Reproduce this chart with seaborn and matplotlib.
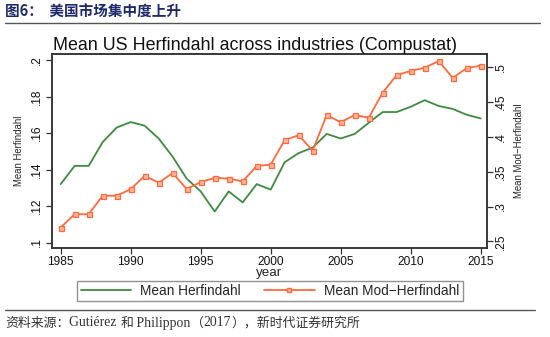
import numpy as np
import pandas as pd
import matplotlib
matplotlib.use("Agg")
import matplotlib.pyplot as plt
from matplotlib.lines import Line2D
import seaborn as sns

# Annual series, 1985-2015
years = list(range(1985, 2016))
herfindahl = [0.132, 0.142, 0.142, 0.155, 0.163, 0.166, 0.164, 0.157, 0.147, 0.135,
              0.128, 0.117, 0.128, 0.122, 0.132, 0.129, 0.144, 0.149, 0.152, 0.1595,
              0.157, 0.1595, 0.1656, 0.1715, 0.1715, 0.1744, 0.178, 0.1748, 0.1732,
              0.170, 0.168]
mod_herfindahl = [0.270, 0.289, 0.289, 0.3155, 0.3155, 0.3247, 0.344, 0.334, 0.348, 0.325,
                  0.335, 0.341, 0.340, 0.336, 0.358, 0.360, 0.395, 0.402, 0.380, 0.431,
                  0.4205, 0.431, 0.427, 0.463, 0.488, 0.494, 0.4986, 0.508, 0.484, 0.498,
                  0.5015]

x_ticks = [1985, 1990, 1995, 2000, 2005, 2010, 2015]
left_ticks = [0.10, 0.12, 0.14, 0.16, 0.18, 0.20]
left_labels = [".1", ".12", ".14", ".16", ".18", ".2"]
right_ticks = [0.25, 0.30, 0.35, 0.40, 0.45, 0.50]
right_labels = [".25", ".3", ".35", ".4", ".45", ".5"]

title = "Mean US Herfindahl across industries (Compustat)"
header = "图6：  美国市场集中度上升"
# source line split into CJK and Latin runs (True = Latin run)
source_parts = [("资料来源：", False), ("Gutiérez ", True), ("和", False),
                (" Philippon", True), ("（", False), ("2017", True),
                ("），新时代证券研究所", False)]
series_names = ["Mean Herfindahl", "Mean Mod\u2212Herfindahl"]

df = pd.DataFrame({"year": years, "herf": herfindahl, "mod": mod_herfindahl})

sns.set_theme(style="white")
plt.rcParams["font.family"] = ["Liberation Sans", "Noto Sans CJK SC"]

green = "#3e8a3e"
orange = "#ff6a3d"
frame = "#333333"

fig = plt.figure(figsize=(5.5, 3.37), dpi=100)
fig.patch.set_facecolor("white")
ax = fig.add_axes([0.094, 0.2641, 0.7915, 0.5757])
ax2 = ax.twinx()

sns.lineplot(data=df, x="year", y="herf", ax=ax, color=green, linewidth=1.3)
sns.lineplot(data=df, x="year", y="mod", ax=ax2, color=orange, linewidth=1.3,
             marker="s", markersize=3.6, markerfacecolor="#ffb599",
             markeredgecolor=orange, markeredgewidth=0.9)

ax.set_xlim(1984.36, 2015.45)
ax.set_ylim(0.097, 0.2033)
ax2.set_ylim(0.2407, 0.5182)

ax.set_xticks(x_ticks)
ax.set_xticklabels([str(t) for t in x_ticks], fontsize=8.6)
ax.set_yticks(left_ticks)
ax.set_yticklabels(left_labels, fontsize=8.6, rotation=90, va="center")
ax2.set_yticks(right_ticks)
ax2.set_yticklabels(right_labels, fontsize=8.6, rotation=90, va="center")

for a in (ax, ax2):
    a.tick_params(axis="both", direction="out", length=4, width=0.9,
                  color=frame, labelcolor="#111111", pad=2)
    for s in a.spines.values():
        s.set_color(frame)
        s.set_linewidth(1.1)
    a.grid(False)
ax.tick_params(axis="y", left=True)
ax.tick_params(axis="x", bottom=True)
ax2.tick_params(axis="y", right=True)

ax.set_xlabel("year", fontsize=9.6, labelpad=-1)
ax.set_ylabel("Mean Herfindahl", fontsize=6.9, labelpad=5)
ax2.set_ylabel("Mean Mod\u2212Herfindahl", fontsize=6.9, labelpad=5, rotation=90)

fig.text(255 / 550, 1 - 45 / 337, title, fontsize=12.9, ha="center", va="center",
         color="#111111")

handles = [
    Line2D([], [], color=green, linewidth=1.3),
    Line2D([], [], color=orange, linewidth=1.3, marker="s", markersize=3,
           markerfacecolor="#ffb599", markeredgecolor=orange),
]
leg = fig.legend(handles, series_names, loc="center",
                 bbox_to_anchor=(270 / 550, 1 - 291 / 337), ncol=2,
                 fontsize=9.8, frameon=True, fancybox=False, edgecolor="#777777",
                 handlelength=3.7, columnspacing=1.7, handletextpad=0.7,
                 borderpad=0.25, borderaxespad=0)
leg.get_frame().set_linewidth(1.0)

# header and source block
fig.text(5 / 550, 1 - 12 / 337, header, fontsize=10.5, fontweight="bold",
         color="#1c2a6b", ha="left", va="center",
         family=["Noto Sans CJK SC", "DejaVu Sans"])
fig.add_artist(Line2D([5 / 550, 540 / 550], [1 - 23 / 337, 1 - 23 / 337],
                      color="#555555", linewidth=1.0))
fig.add_artist(Line2D([5 / 550, 535 / 550], [1 - 310 / 337, 1 - 310 / 337],
                      color="#555555", linewidth=1.0))

renderer = fig.canvas.get_renderer()
x_px = 5.0
for text, latin in source_parts:
    if latin:
        kw = dict(fontsize=9.9, family=["Liberation Serif", "Noto Sans CJK SC"])
    else:
        kw = dict(fontsize=9.3, family=["Noto Sans CJK SC", "Liberation Serif"])
    t = fig.text(x_px / 550, 1 - 323 / 337, text, color="#333333",
                 ha="left", va="center", **kw)
    x_px += t.get_window_extent(renderer).width

fig.savefig("out.png", dpi=100, facecolor="white")
